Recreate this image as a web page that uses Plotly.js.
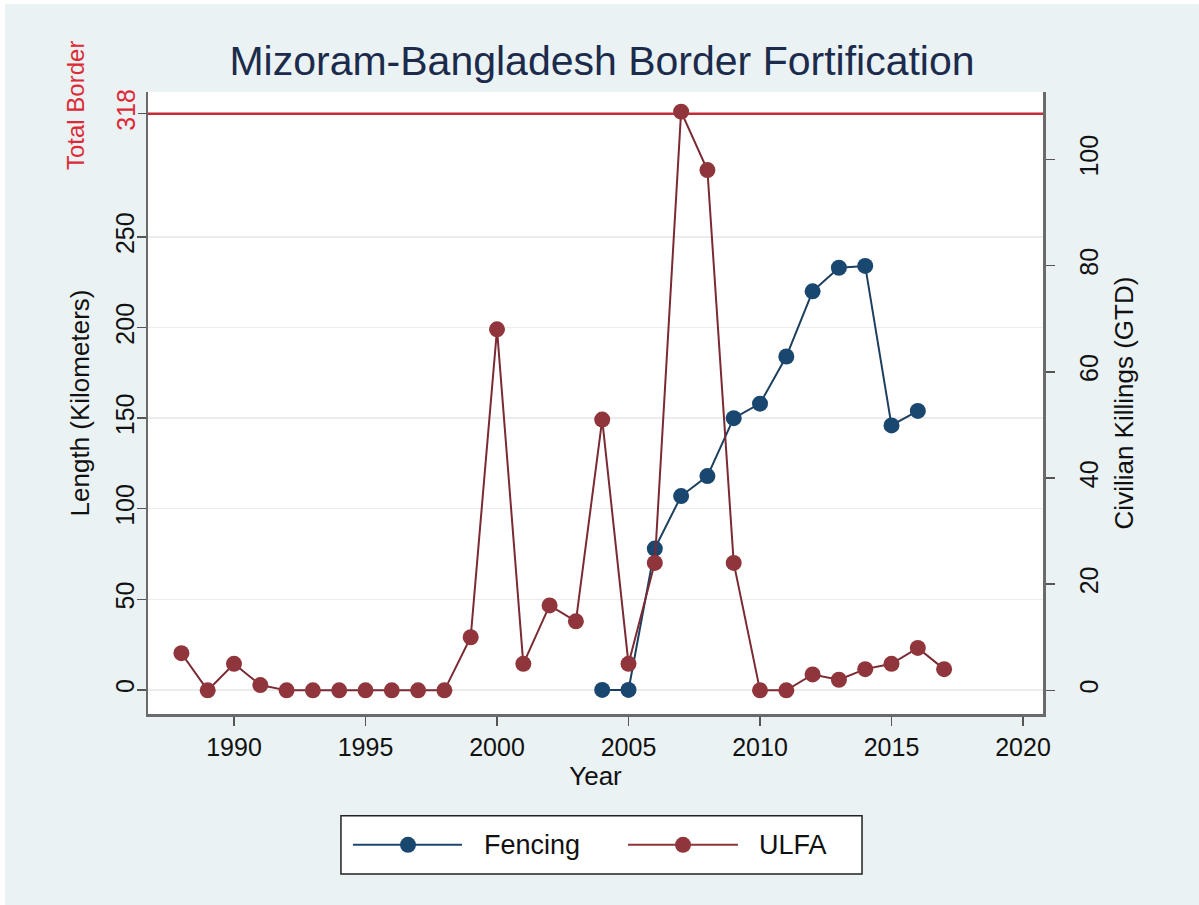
<!DOCTYPE html>
<html>
<head>
<meta charset="utf-8">
<script src="https://cdn.plot.ly/plotly-3.0.1.min.js"></script>
<style>
  html, body { margin: 0; padding: 0; background: #ffffff; }
  #wrap { width: 1199px; height: 905px; box-sizing: border-box;
          border-top: 4px solid #ffffff; border-left: 5px solid #ffffff;
          background: #eaf2f3; }
  #chart { width: 1194px; height: 901px; }
</style>
</head>
<body>
<div id="wrap"><div id="chart"></div></div>
<script>
// Years and series
const ulfaYears = [1988, 1989, 1990, 1991, 1992, 1993, 1994, 1995, 1996, 1997, 1998,
                   1999, 2000, 2001, 2002, 2003, 2004, 2005, 2006, 2007, 2008, 2009,
                   2010, 2011, 2012, 2013, 2014, 2015, 2016, 2017];
const ulfaKillings = [7, 0, 5, 1, 0, 0, 0, 0, 0, 0, 0,
                      10, 68, 5, 16, 13, 51, 5, 24, 109, 98, 24,
                      0, 0, 3, 2, 4, 5, 8, 4];

const fenceYears = [2004, 2005, 2006, 2007, 2008, 2009, 2010, 2011, 2012, 2013, 2014, 2015, 2016];
const fenceKm = [0, 0, 78, 107, 118, 150, 158, 184, 220, 233, 234, 146, 154];

const totalBorderKm = 318;
const lengthTicks = [0, 50, 100, 150, 200, 250];
const killingTicks = [0, 20, 40, 60, 80, 100];
const yearTicks = [1990, 1995, 2000, 2005, 2010, 2015, 2020];

const NAVY = '#1a476f';
const MAROON = '#90353b';
const RED = '#dd2a36';
const FONT = 'Liberation Sans, Arial, sans-serif';
const LENGTH_RANGE = [-13.3, 330];

const traces = [
  {
    x: fenceYears, y: fenceKm, type: 'scatter', mode: 'lines+markers',
    name: 'Fencing', yaxis: 'y', showlegend: false,
    line: {color: '#1d3f5f', width: 2},
    marker: {color: NAVY, size: 16}
  },
  {
    x: ulfaYears, y: ulfaKillings, type: 'scatter', mode: 'lines+markers',
    name: 'ULFA', yaxis: 'y2', showlegend: false,
    line: {color: '#7a2a32', width: 2},
    marker: {color: MAROON, size: 16}
  }
];

// legend drawn as a boxed key below the plot
const lgY = -0.2104;
const legendShapes = [
  {type: 'rect', xref: 'paper', yref: 'paper', x0: 0.2156, x1: 0.7978, y0: -0.1634, y1: -0.2573,
   fillcolor: '#ffffff', line: {color: '#222222', width: 1.5}},
  {type: 'line', xref: 'paper', yref: 'paper', x0: 0.229, x1: 0.3508, y0: lgY, y1: lgY,
   line: {color: NAVY, width: 2}},
  {type: 'circle', xref: 'paper', yref: 'paper', xsizemode: 'pixel', ysizemode: 'pixel',
   xanchor: 0.2905, yanchor: lgY, x0: -8, x1: 8, y0: -8, y1: 8,
   fillcolor: NAVY, line: {color: NAVY, width: 0}},
  {type: 'line', xref: 'paper', yref: 'paper', x0: 0.5363, x1: 0.6592, y0: lgY, y1: lgY,
   line: {color: MAROON, width: 2}},
  {type: 'circle', xref: 'paper', yref: 'paper', xsizemode: 'pixel', ysizemode: 'pixel',
   xanchor: 0.5978, yanchor: lgY, x0: -8, x1: 8, y0: -8, y1: 8,
   fillcolor: MAROON, line: {color: MAROON, width: 0}}
];

const layout = {
  width: 1194, height: 901,
  paper_bgcolor: 'rgba(0,0,0,0)',
  plot_bgcolor: '#ffffff',
  margin: {l: 143, r: 156, t: 88, b: 191, pad: 0},
  font: {family: FONT, color: '#111111', size: 25},
  title: {
    text: 'Mizoram-Bangladesh Border Fortification',
    font: {family: FONT, size: 41, color: '#1c2b4c'},
    x: 0.5, xanchor: 'center', y: 0.937, yanchor: 'middle'
  },
  xaxis: {
    range: [1986.73, 2020.76],
    tickvals: yearTicks,
    ticks: 'outside', ticklen: 9, tickwidth: 1.5, tickcolor: '#555555',
    showline: true, linecolor: '#6a6a6a', linewidth: 2.5,
    showgrid: false, zeroline: false,
    tickfont: {size: 25, color: '#111111'},
    title: {text: 'Year', font: {size: 26, color: '#111111'}, standoff: 8}
  },
  yaxis: {
    range: LENGTH_RANGE,
    tickvals: lengthTicks,
    tickangle: -90,
    ticks: 'outside', ticklen: 9, tickwidth: 1.5, tickcolor: '#555555',
    ticklabelstandoff: -7,
    showline: true, linecolor: '#6a6a6a', linewidth: 2.5,
    showgrid: true, gridcolor: '#ececec', gridwidth: 1.5,
    zeroline: false,
    tickfont: {size: 25, color: '#111111'},
    title: {text: 'Length (Kilometers)', font: {size: 26, color: '#111111'}, standoff: 14}
  },
  // extra left axis carrying only the total-border tick in red
  yaxis3: {
    overlaying: 'y', side: 'left', anchor: 'x',
    range: LENGTH_RANGE,
    tickvals: [totalBorderKm],
    tickangle: -90,
    ticks: 'outside', ticklen: 9, tickwidth: 1.5, tickcolor: '#555555',
    ticklabelstandoff: -7,
    showline: false, showgrid: false, zeroline: false,
    tickfont: {size: 25, color: RED}
  },
  yaxis2: {
    overlaying: 'y', side: 'right',
    range: [-4.45, 112.7],
    tickvals: killingTicks,
    tickangle: -90,
    ticks: 'outside', ticklen: 9, tickwidth: 1.5, tickcolor: '#555555',
    ticklabelstandoff: 13,
    showline: true, linecolor: '#6a6a6a', linewidth: 2.5,
    showgrid: false, zeroline: false,
    tickfont: {size: 25, color: '#111111'},
    title: {text: 'Civilian Killings (GTD)', font: {size: 26, color: '#111111'}, standoff: 14}
  },
  shapes: [
    {type: 'line', xref: 'paper', yref: 'y', x0: 0, x1: 1, y0: totalBorderKm, y1: totalBorderKm,
     line: {color: '#c62a38', width: 2.5}, layer: 'below'}
  ].concat(legendShapes),
  annotations: [
    {text: 'Total Border', xref: 'paper', yref: 'paper', x: -0.0816, y: 0.979,
     textangle: -90, showarrow: false, font: {size: 24, color: RED},
     xanchor: 'center', yanchor: 'middle'},
    {text: 'Fencing', xref: 'paper', yref: 'paper', x: 0.3732, y: lgY,
     showarrow: false, xanchor: 'left', yanchor: 'middle', font: {size: 27, color: '#111111'}},
    {text: 'ULFA', xref: 'paper', yref: 'paper', x: 0.6804, y: lgY,
     showarrow: false, xanchor: 'left', yanchor: 'middle', font: {size: 27, color: '#111111'}}
  ],
  showlegend: false
};

// an invisible trace keeps the extra axis active
traces.push({x: [yearTicks[0]], y: [totalBorderKm], yaxis: 'y3', type: 'scatter', mode: 'markers',
             marker: {opacity: 0}, showlegend: false, hoverinfo: 'skip'});

Plotly.newPlot('chart', traces, layout, {displayModeBar: false, staticPlot: true});
</script>
</body>
</html>
